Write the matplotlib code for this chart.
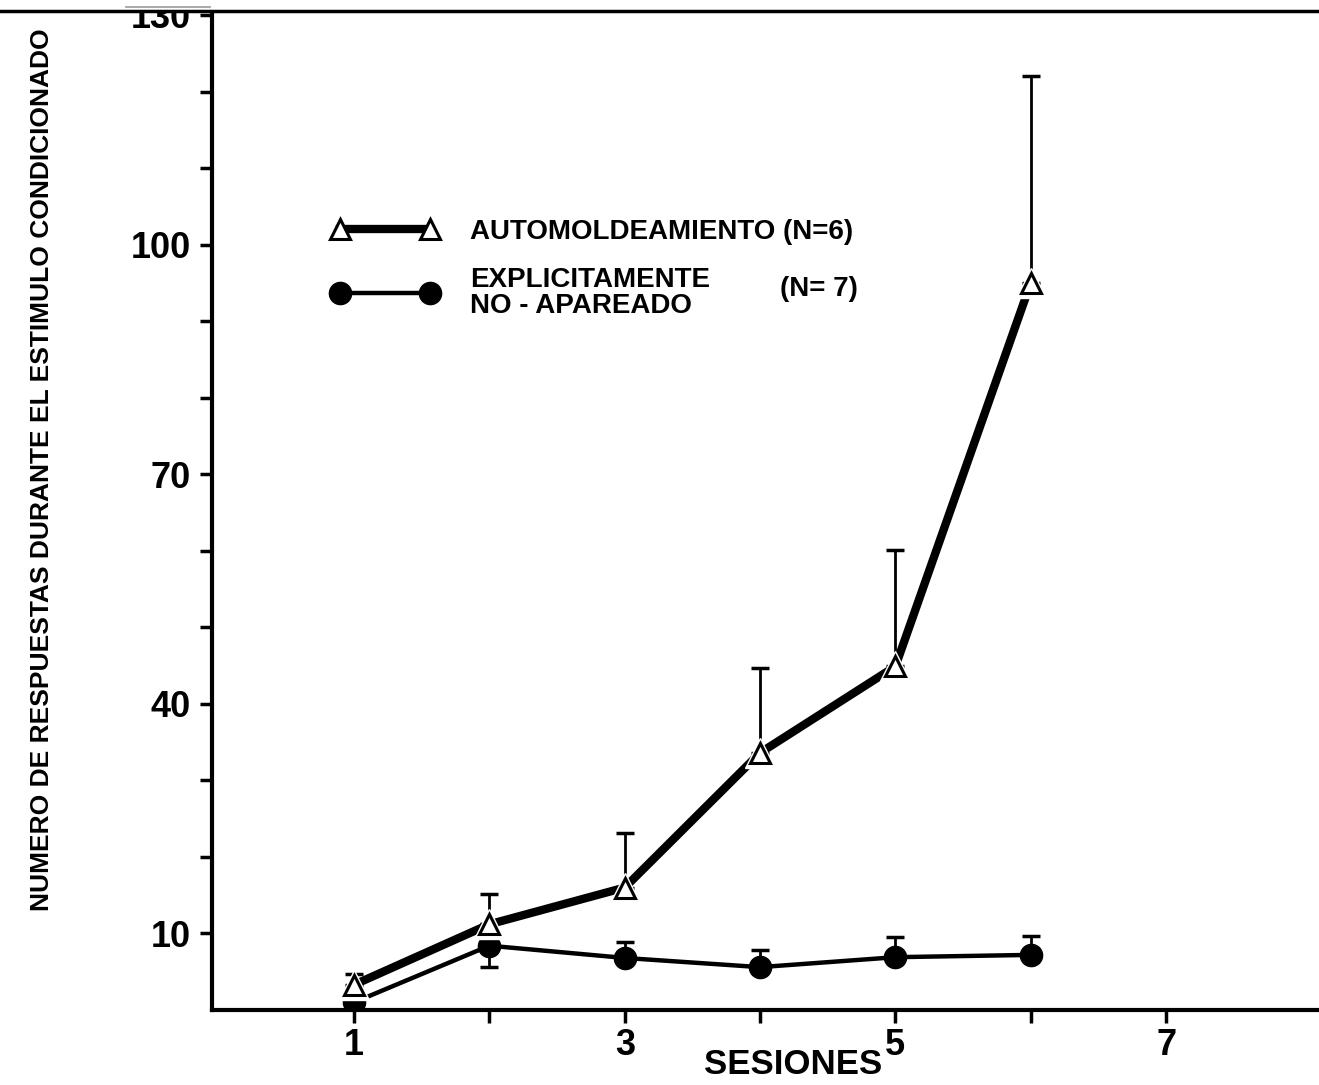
import matplotlib
matplotlib.use('Agg')
import matplotlib.pyplot as plt
from matplotlib.lines import Line2D
from matplotlib.patches import Rectangle
from matplotlib import font_manager

# ---------------- data ----------------
sessions = [1, 2, 3, 4, 5, 6]
auto_mean = [3.3, 11.2, 16.0, 33.6, 44.9, 95.0]
auto_err_up = [1.4, 4.0, 7.1, 11.1, 15.2, 27.0]
auto_err_down = [0, 0, 0, 0, 0, 0]
nopair_mean = [1.0, 8.4, 6.8, 5.6, 6.9, 7.2]
nopair_err_up = [0.0, 2.8, 2.1, 2.2, 2.6, 2.5]
nopair_err_down = [0.0, 2.8, 0.0, 0.0, 0.0, 0.0]

y_major = [10, 40, 70, 100, 130]
y_minor = [20, 30, 50, 60, 80, 90, 110, 120]
x_ticks = [1, 2, 3, 4, 5, 6, 7]
x_ticklabels = ['1', '', '3', '', '5', '', '7']

label_auto = 'AUTOMOLDEAMIENTO (N=6)'
label_nopair = 'EXPLICITAMENTE\nNO - APAREADO'
label_nopair_n = '(N= 7)'
ylabel = 'NUMERO DE RESPUESTAS DURANTE EL ESTIMULO CONDICIONADO'
xlabel = 'SESIONES'

# ---------------- fonts ----------------
names = {f.name for f in font_manager.fontManager.ttflist}
FONT = 'Liberation Sans' if 'Liberation Sans' in names else 'DejaVu Sans'
plt.rcParams['font.family'] = [FONT, 'DejaVu Sans']

W, H = 1319, 1085
fig = plt.figure(figsize=(W / 100, H / 100), dpi=100)
fig.patch.set_facecolor('white')

ax_left, ax_bottom_px, ax_top_px = 212, 1010, 15
ax = fig.add_axes([ax_left / W, 1 - ax_bottom_px / H,
                   1 - ax_left / W, (ax_bottom_px - ax_top_px) / H])
ax.set_xlim(-0.05, 8.13)
ax.set_ylim(0, 130)

for s in ['top', 'right']:
    ax.spines[s].set_visible(False)
for s in ['left', 'bottom']:
    ax.spines[s].set_linewidth(3)

ax.set_yticks(y_major)
ax.set_yticks(y_minor, minor=True)
ax.set_xticks(x_ticks)
ax.set_xticklabels(x_ticklabels)
ax.tick_params(axis='both', which='both', direction='out', length=9, width=2.5)
ax.tick_params(axis='y', which='major', pad=6)
ax.tick_params(axis='x', which='major', pad=4)
for lab in ax.get_yticklabels() + ax.get_xticklabels():
    lab.set_fontsize(26)
    lab.set_fontweight('bold')

# ---------------- series ----------------
# explicitly unpaired (filled circles, thin line)
ax.errorbar(sessions, nopair_mean, yerr=[nopair_err_down, nopair_err_up],
            fmt='none', ecolor='black', elinewidth=2, capsize=6.5,
            capthick=2.5, zorder=1)
ax.plot(sessions, nopair_mean, '-', color='black', lw=3.2, zorder=2)
ax.plot(sessions, nopair_mean, 'o', color='black', ms=16, ls='none', zorder=2)

# automaintenance (open triangles, thick line)
ax.errorbar(sessions, auto_mean, yerr=[auto_err_down, auto_err_up],
            fmt='none', ecolor='black', elinewidth=2, capsize=6.5,
            capthick=2.5, zorder=3)
ax.plot(sessions, auto_mean, '-', color='black', lw=6, zorder=3)
ax.plot(sessions, auto_mean, '^', ms=21, mfc='white', mec='white',
        ls='none', zorder=4)
ax.plot(sessions, auto_mean, '^', ms=15, mfc='white', mec='black',
        mew=2.2, ls='none', zorder=5)

# ---------------- legend ----------------
LEG_FS = 20
h_auto = Line2D([], [], color='black', lw=6, marker='^', ms=15,
                mfc='white', mec='black', mew=2.2)
h_nopair = Line2D([], [], color='black', lw=3.2, marker='o', ms=16)
leg = ax.legend([h_auto, h_nopair], [label_auto, label_nopair],
                loc='upper left', bbox_to_anchor=(0.108, 0.795),
                frameon=False, numpoints=2, handlelength=3.84,
                handletextpad=1.14, borderpad=0, borderaxespad=0,
                labelspacing=0.8,
                prop={'family': FONT, 'weight': 'bold', 'size': LEG_FS})
for t in leg.get_texts():
    t.set_linespacing(1.0)
ax.text(0.513, 0.725, label_nopair_n, transform=ax.transAxes,
        ha='left', va='center', fontsize=LEG_FS, fontweight='bold')

# ---------------- axis titles ----------------
fig.text(42 / W, 1 - 470 / H, ylabel, rotation=90, ha='center', va='center',
         fontsize=19, fontweight='bold')
fig.text(793 / W, 1 - 1065 / H, xlabel, ha='center', va='center',
         fontsize=25, fontweight='bold')

# ---------------- scan page edge at top ----------------
fig.add_artist(Rectangle((0, 1 - 10 / H), 1, 10 / H, transform=fig.transFigure,
                         facecolor='white', edgecolor='none', zorder=10))
fig.add_artist(Line2D([0, 1], [1 - 11 / H] * 2, transform=fig.transFigure,
                      color='black', lw=2.5, zorder=11))
fig.add_artist(Line2D([126 / W, 210 / W], [1 - 7 / H] * 2,
                      transform=fig.transFigure, color='#999999', lw=1.2,
                      zorder=11))

fig.savefig('out.png', dpi=100, facecolor='white')
